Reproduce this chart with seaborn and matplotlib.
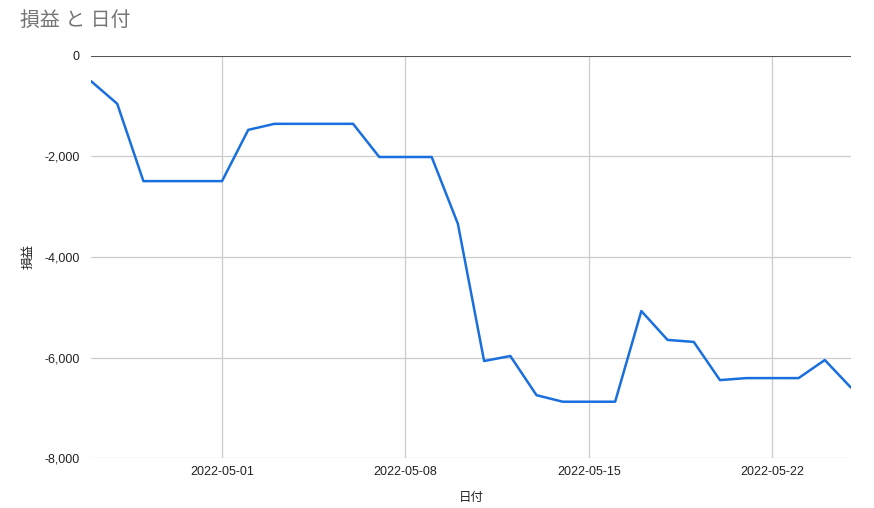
import matplotlib
matplotlib.use("Agg")
import matplotlib.pyplot as plt
import matplotlib.dates as mdates
import seaborn as sns
import pandas as pd

dates = pd.date_range("2022-04-26", "2022-05-25", freq="D")
pnl = [-500, -950, -2490, -2490, -2490, -2490, -1470, -1350, -1350, -1350,
       -1350, -2010, -2010, -2010, -3340, -6070, -5970, -6750, -6880, -6880,
       -6880, -5075, -5650, -5690, -6450, -6410, -6410, -6410, -6050, -6600]
y_ticks = [0, -2000, -4000, -6000, -8000]
x_ticks = ["2022-05-01", "2022-05-08", "2022-05-15", "2022-05-22"]
title = "損益 と 日付"
x_label = "日付"
y_label = "損益"

sns.set_theme(style="white")
plt.rcParams['font.family'] = ['Liberation Sans', 'Noto Sans CJK JP', 'DejaVu Sans']

df = pd.DataFrame({"date": dates, "pnl": pnl})

fig = plt.figure(figsize=(8.74, 5.08), dpi=100)
ax = fig.add_axes([91/874, 1-458/508, (851-91)/874, (458-56)/508])

sns.lineplot(data=df, x="date", y="pnl", ax=ax, color="#1a6fde", linewidth=1.8)

ax.set_xlim(dates[0], dates[-1])
ax.set_ylim(-8000, 0)
ax.set_yticks(y_ticks)
ax.yaxis.set_major_formatter(matplotlib.ticker.FuncFormatter(lambda v, p: f"{int(v):,}"))
ax.set_xticks(pd.to_datetime(x_ticks))
ax.xaxis.set_major_formatter(mdates.DateFormatter("%Y-%m-%d"))
ax.grid(True, color="#cccccc", linewidth=0.9)
ax.axhline(0, color="#333333", linewidth=1.1, zorder=3)
for s in ax.spines.values():
    s.set_visible(False)
ax.tick_params(axis="both", length=0, labelsize=9, colors="#222222")
ax.tick_params(axis="y", pad=8)
ax.tick_params(axis="x", pad=6)

ax.set_xlabel(x_label, fontsize=9, color="#222222", labelpad=10)
ax.set_ylabel(y_label, fontsize=9, color="#222222", labelpad=7)
fig.text(20/874, 1-20/508, title, fontsize=14.3, color="#757575", va="center", ha="left")

fig.savefig("out.png", dpi=100)
